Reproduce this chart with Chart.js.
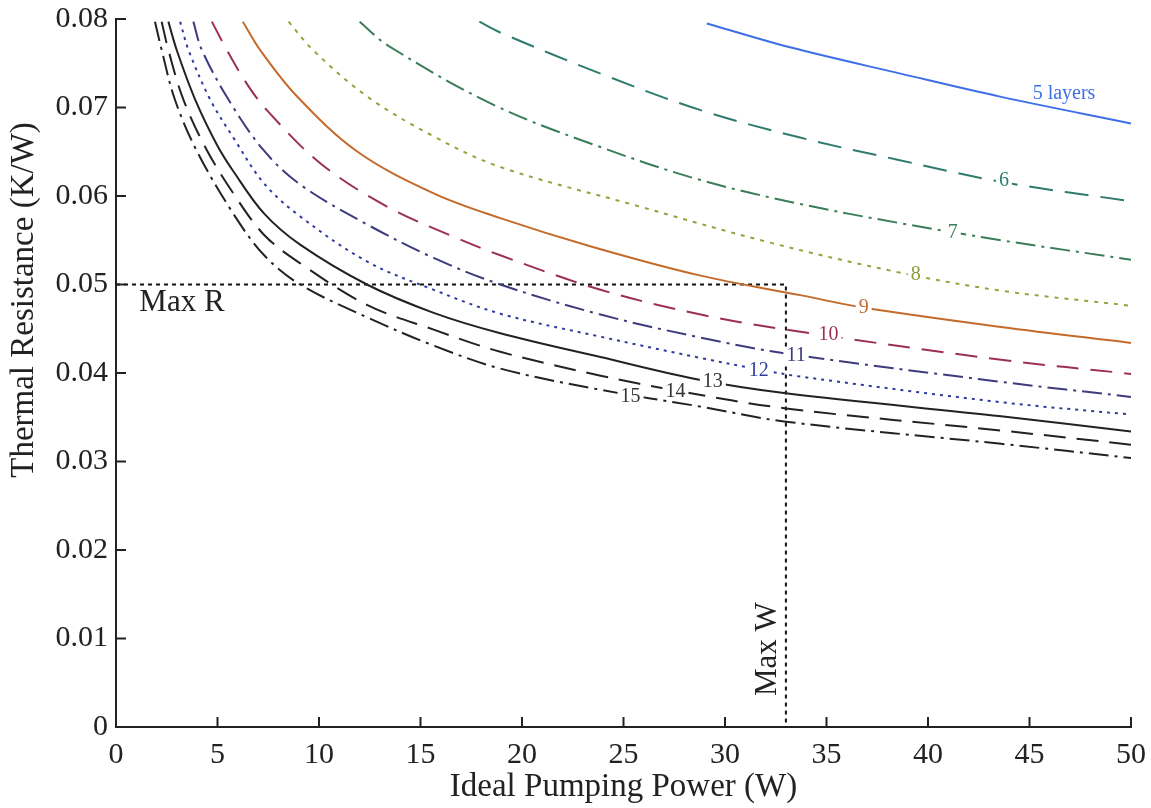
<!DOCTYPE html>
<html>
<head>
<meta charset="utf-8">
<script src="https://cdn.jsdelivr.net/npm/chart.js@4.4.1/dist/chart.umd.min.js"></script>
<style>
  html, body { margin: 0; padding: 0; background: #ffffff; }
  #wrap { width: 1151px; height: 808px; }
</style>
</head>
<body>
<div id="wrap"><canvas id="c" width="1151" height="808"></canvas></div>
<script>
// ---------- data ----------
const P5  = [29.1, 33.2, 38.7, 43.6, 50];
const R5  = [0.0795, 0.0768, 0.0738, 0.0712, 0.0682];
const P6  = [17.9, 18.9, 23.9, 28.8, 33.7, 38.5, 43.6, 50];
const R6  = [0.0797, 0.0785, 0.0738, 0.0697, 0.0666, 0.0641, 0.0616, 0.0594];
const P7  = [12.0, 13.4, 18.6, 23.9, 28.8, 33.7, 38.7, 43.6, 50];
const R7  = [0.0797, 0.0770, 0.0703, 0.0655, 0.0618, 0.0591, 0.0569, 0.0550, 0.0528];
const P8  = [8.5, 9.7, 12.4, 15.6, 18.9, 25.5, 32.1, 38.5, 43.6, 50];
const R8  = [0.0797, 0.0765, 0.0712, 0.0668, 0.0633, 0.0590, 0.0548, 0.0514, 0.0493, 0.0476];
const P9  = [6.25, 7.1, 8.9, 11.9, 15.65, 18.93, 23.4, 28.8, 33.7, 36.8, 43.6, 50];
const R9  = [0.0797, 0.0765, 0.0713, 0.0650, 0.0603, 0.0575, 0.0543, 0.0510, 0.0488, 0.0474, 0.0452, 0.0434];
const P10 = [4.72, 5.46, 6.44, 7.43, 10.06, 13.35, 16.63, 18.93, 23.87, 28.8, 33, 43.6, 50];
const R10 = [0.0797, 0.0765, 0.0727, 0.0697, 0.0637, 0.0588, 0.0554, 0.0533, 0.0494, 0.0466, 0.0449, 0.0415, 0.0399];
const P11 = [3.81, 4.23, 5.54, 7.26, 9.07, 12.36, 15.65, 18.93, 23.87, 28.8, 33, 43.6, 50];
const R11 = [0.0797, 0.0765, 0.0709, 0.0652, 0.0613, 0.0568, 0.0530, 0.0500, 0.0466, 0.0440, 0.0422, 0.0390, 0.0373];
const P12 = [3.16, 3.57, 4.64, 5.78, 7.3, 9.07, 12.36, 15.65, 18.93, 23.87, 28.8, 31.7, 33.7, 43.6, 50];
const R12 = [0.0797, 0.0765, 0.0709, 0.0666, 0.0614, 0.0577, 0.0526, 0.0494, 0.0467, 0.0441, 0.0417, 0.0404, 0.0396, 0.0367, 0.0353];
const P13 = [2.58, 2.99, 3.9, 4.97, 5.78, 7.3, 9.07, 12.36, 15.65, 18.93, 23.87, 28.8, 33, 43.6, 50];
const R13 = [0.0797, 0.0765, 0.0709, 0.0658, 0.0628, 0.0580, 0.0545, 0.0500, 0.0468, 0.0445, 0.0418, 0.0392, 0.0377, 0.0351, 0.0334];
const P14 = [2.25, 2.58, 3.32, 4.47, 5.78, 7.3, 9.07, 12.36, 15.65, 18.93, 23.87, 27.6, 33, 43.6, 50];
const R14 = [0.0797, 0.0765, 0.0709, 0.0652, 0.0603, 0.0556, 0.0524, 0.0477, 0.0449, 0.0424, 0.0397, 0.0380, 0.0360, 0.0335, 0.0319];
const P15 = [1.92, 2.25, 2.9, 4.0, 5.78, 7.3, 9.07, 12.36, 15.65, 18.93, 23.87, 28.8, 33, 43.6, 50];
const R15 = [0.0797, 0.0765, 0.0709, 0.0650, 0.0580, 0.0533, 0.0500, 0.0463, 0.0431, 0.0405, 0.0381, 0.0362, 0.0345, 0.0320, 0.0304];

// limits (Max W, Max R)
const MAX_W = 33;
const MAX_R = 0.05;
const limitP = [0, MAX_W, MAX_W];
const limitR = [MAX_R, MAX_R, 0];

// contour labels (text and their anchor in data units)
const labelText = ['5 layers', '6', '7', '8', '9', '10', '11', '12', '13', '14', '15'];
const labelP    = [46.7, 43.74, 41.22, 39.4, 36.83, 35.1, 33.5, 31.66, 29.4, 27.56, 25.35];
const labelR    = [0.0716, 0.0617, 0.0559, 0.0511, 0.0474, 0.0443, 0.0419, 0.0403, 0.0390, 0.0379, 0.0373];

// axis ticks
const xTicks = [0, 5, 10, 15, 20, 25, 30, 35, 40, 45, 50];
const yTicks = [0, 0.01, 0.02, 0.03, 0.04, 0.05, 0.06, 0.07, 0.08];

// ---------- styles ----------
const FONT = "'Liberation Serif', 'Times New Roman', serif";
const AX = '#222222';
const series = [
  { p: P5,  r: R5,  color: '#3f6fe6', dash: [] },
  { p: P6,  r: R6,  color: '#2f7b70', dash: [24, 12] },
  { p: P7,  r: R7,  color: '#3a7d57', dash: [20, 6, 3, 6] },
  { p: P8,  r: R8,  color: '#8ea53c', dash: [4, 6] },
  { p: P9,  r: R9,  color: '#c46a2a', dash: [] },
  { p: P10, r: R10, color: '#9c3050', dash: [22, 12] },
  { p: P11, r: R11, color: '#3d3b7e', dash: [20, 6, 3, 6] },
  { p: P12, r: R12, color: '#2d3b9c', dash: [3, 5] },
  { p: P13, r: R13, color: '#222222', dash: [] },
  { p: P14, r: R14, color: '#222222', dash: [22, 11] },
  { p: P15, r: R15, color: '#222222', dash: [20, 6, 3, 6] }
];
const labelColors = ['#3f6fe6', '#2f7b70', '#3a7d57', '#8a9a3a', '#c46a2a', '#9c3050', '#3d3b7e', '#2d3b9c', '#333333', '#333333', '#333333'];

const datasets = series.map((s, i) => ({
  label: labelText[i],
  data: s.p.map((x, k) => ({ x: x, y: s.r[k] })),
  borderColor: s.color,
  borderWidth: 2,
  borderDash: s.dash,
  pointRadius: 0,
  fill: false,
  tension: 0.35
}));
datasets.push({
  label: 'limits',
  data: limitP.map((x, k) => ({ x: x, y: limitR[k] })),
  borderColor: '#111111',
  borderWidth: 2,
  borderDash: [4, 4],
  pointRadius: 0,
  fill: false,
  tension: 0
});

const decor = {
  id: 'decor',
  afterDatasetsDraw(chart) {
    const { ctx, scales: { x, y } } = chart;
    ctx.save();
    ctx.font = '20px ' + FONT;
    ctx.textAlign = 'center';
    ctx.textBaseline = 'middle';
    labelText.forEach((t, i) => {
      const px = x.getPixelForValue(labelP[i]);
      const py = y.getPixelForValue(labelR[i]);
      const w = ctx.measureText(t).width;
      if (i > 0) {
        ctx.fillStyle = '#ffffff';
        ctx.fillRect(px - w / 2 - 3, py - 7, w + 6, 14);
      }
      ctx.fillStyle = labelColors[i];
      ctx.fillText(t, px, py);
    });
    // Max R / Max W annotations
    ctx.fillStyle = AX;
    ctx.font = '31px ' + FONT;
    ctx.fillText('Max R', x.getPixelForValue(3.25), y.getPixelForValue(0.0479));
    ctx.save();
    ctx.translate(x.getPixelForValue(32.1), y.getPixelForValue(0.0088));
    ctx.rotate(-Math.PI / 2);
    ctx.fillText('Max W', 0, 0);
    ctx.restore();
    ctx.restore();
  },
  afterDraw(chart) {
    const { ctx, chartArea, scales: { x, y } } = chart;
    ctx.save();
    ctx.strokeStyle = AX;
    ctx.lineWidth = 2;
    ctx.beginPath();
    xTicks.forEach(v => {
      const px = x.getPixelForValue(v);
      ctx.moveTo(px, chartArea.bottom);
      ctx.lineTo(px, chartArea.bottom - 10);
    });
    yTicks.forEach(v => {
      const py = y.getPixelForValue(v);
      ctx.moveTo(chartArea.left, py);
      ctx.lineTo(chartArea.left + 10, py);
    });
    ctx.stroke();
    // y axis title
    ctx.fillStyle = AX;
    ctx.font = '33px ' + FONT;
    ctx.textAlign = 'center';
    ctx.textBaseline = 'middle';
    ctx.translate(24, 300);
    ctx.rotate(-Math.PI / 2);
    ctx.fillText('Thermal Resistance (K/W)', 0, 0);
    ctx.restore();
  }
};

new Chart(document.getElementById('c'), {
  type: 'line',
  data: { datasets: datasets },
  plugins: [decor],
  options: {
    responsive: false,
    animation: false,
    devicePixelRatio: 1,
    layout: { padding: { top: 19, right: 20, left: 0, bottom: 0 } },
    plugins: { legend: { display: false }, tooltip: { enabled: false } },
    scales: {
      x: {
        type: 'linear', min: 0, max: 50,
        afterBuildTicks: s => { s.ticks = xTicks.map(v => ({ value: v })); },
        ticks: { font: { family: FONT, size: 30 }, color: AX, padding: 10, maxRotation: 0,
                 callback: v => String(v) },
        grid: { display: false, drawTicks: false },
        border: { display: true, color: AX, width: 2 },
        title: { display: true, text: 'Ideal Pumping Power (W)', color: AX,
                 font: { family: FONT, size: 33 }, padding: { top: 0, bottom: 1 } },
        afterFit: s => { s.height = 81; s.paddingLeft = 0; s.paddingRight = 0; }
      },
      y: {
        type: 'linear', min: 0, max: 0.08,
        afterBuildTicks: s => { s.ticks = yTicks.map(v => ({ value: v })); },
        ticks: { font: { family: FONT, size: 30 }, color: AX, padding: 8,
                 callback: v => (v === 0 ? '0' : v.toFixed(2)) },
        grid: { display: false, drawTicks: false },
        border: { display: true, color: AX, width: 2 },
        afterFit: s => { s.width = 116; s.paddingTop = 0; s.paddingBottom = 0; }
      }
    }
  }
});
</script>
</body>
</html>
